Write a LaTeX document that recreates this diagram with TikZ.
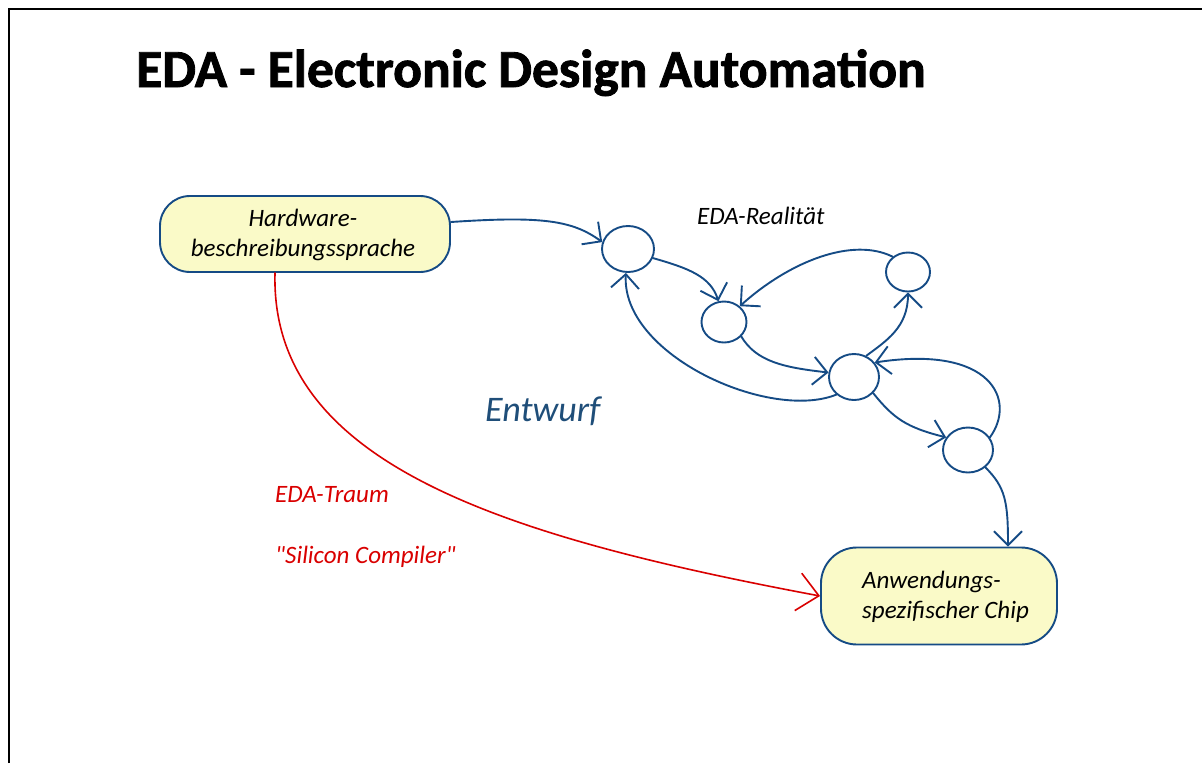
\documentclass[tikz,border=0pt]{standalone}
\usepackage{fontspec}
\setmainfont{Carlito}
\newfontfamily\titlefont[BoldFeatures={FakeBold=1.6}]{Carlito}
\newfontfamily\quotefont{Carlito}
\usetikzlibrary{arrows.meta,shapes.geometric}
\definecolor{eblue}{HTML}{154B85}
\definecolor{etext}{HTML}{1F4E79}
\definecolor{efill}{HTML}{FAFAC8}
\definecolor{ered}{HTML}{D90000}
\tikzset{
  bodyfont/.style={font=\fontsize{25}{30}\selectfont\itshape},
  txt/.style={inner sep=0pt, anchor=base west},
  yellowbox/.style={draw=eblue, line width=1.9pt, fill=efill, rounded corners=30pt, inner sep=0pt},
  statecirc/.style={draw=eblue, line width=1.9pt, ellipse, inner sep=0pt},
  bluearrow/.style={draw=eblue, line width=1.9pt, line cap=round, -{Straight Barb[length=14pt,width=28pt,line width=1.9pt]}},
  redarrow/.style={draw=ered, line width=1.6pt, line cap=round, -{Straight Barb[length=21pt,width=38pt,line width=1.6pt]}},
}
\begin{document}
\begin{tikzpicture}[x=1pt,y=-1pt]
\useasboundingbox (0,0) rectangle (1202,763);
\draw[line width=2pt] (9,763) -- (9,9) -- (1202,9);
\node[txt, font=\fontsize{53.5}{60}\titlefont\bfseries] (title) at (136,87) {EDA - Electronic Design Automation};

\node[yellowbox, minimum width=290pt, minimum height=76pt] (hw) at (305,234) {};
\node[bodyfont, inner sep=0pt, align=center] (hwlbl) at (303,235) {Hardware-\\beschreibungssprache};
\node[yellowbox, rounded corners=36pt, minimum width=236pt, minimum height=97pt] (chip) at (939,596) {};
\node[bodyfont, inner sep=0pt, align=left, anchor=west] (chiplbl) at (862,597) {Anwendungs-\\spezifischer Chip};

\node[statecirc, minimum width=52pt, minimum height=46pt] (c1) at (628,249) {};
\node[statecirc, minimum width=45pt, minimum height=41pt] (c2) at (724,322) {};
\node[statecirc, minimum width=44pt, minimum height=39pt] (c3) at (908,272) {};
\node[statecirc, minimum width=50pt, minimum height=46pt] (c4) at (854,377) {};
\node[statecirc, minimum width=50pt, minimum height=45pt] (c5) at (968,450) {};

\node[txt, bodyfont] (real) at (697,224) {EDA-Realität};
\node[txt, font=\fontsize{36}{40}\selectfont\itshape, text=etext] (entw) at (485,421) {Entwurf};
\node[txt, bodyfont, text=ered] (traum) at (275,502) {EDA-Traum};
\node[txt, font=\fontsize{25}{30}\quotefont\itshape, text=ered] (silc) at (275,563) {"Silicon Compiler"};

\draw[bluearrow] ([yshift=12pt]hw.east) .. controls +(90,-6) and +(-30,-22) .. (c1.165);
\draw[bluearrow] (c1.-20) .. controls +(35,10) and +(-8,-25) .. (c2.105);
\draw[bluearrow] (c2.-40) .. controls +(15,25) and +(-45,-5) .. (c4.170);
\draw[bluearrow] (c4.-135) .. controls +(-67,27) and +(-5,82) .. (c1.-95);
\draw[bluearrow] (c4.60) .. controls +(20,-15) and +(0,35) .. (c3.-90);
\draw[bluearrow] (c3.135) .. controls +(-40,-20) and +(50,-45) .. (c2.45);
\draw[bluearrow] (c4.-40) .. controls +(20,25) and +(-40,-10) .. (c5.150);
\draw[bluearrow] (c5.30) .. controls +(27,-37) and +(117,-18) .. (c4.35);
\draw[bluearrow] (c5.-45) .. controls +(20,20) and +(0,-45) .. ([xshift=69pt]chip.north);
\draw[redarrow] ([xshift=-30pt]hw.south) .. controls +(-5,190) and +(-320,-60) .. (chip.west);
\end{tikzpicture}
\end{document}
